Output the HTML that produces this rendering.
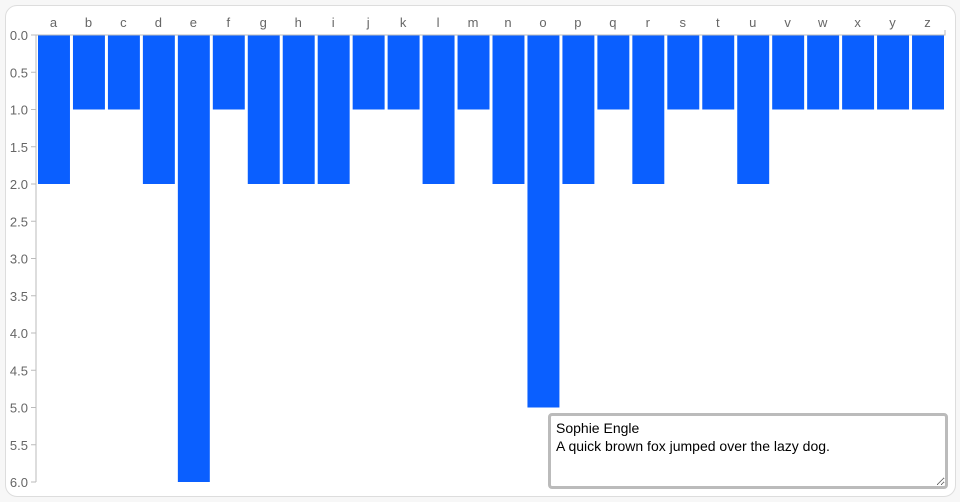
<!DOCTYPE html>
<html><head><meta charset="utf-8"><style>
body{margin:0;width:960px;height:502px;background:#f7f7f7;font-family:"Liberation Sans",sans-serif;overflow:hidden}
#card{position:absolute;left:5px;top:5px;width:949px;height:490px;background:#fff;border:1px solid #ddd;border-radius:12px}
svg{position:absolute;left:0;top:0}
textarea{position:absolute;left:548px;top:413px;width:400px;height:76px;box-sizing:border-box;border:3px solid #bbb;border-radius:4px;font-family:"Liberation Sans",sans-serif;font-size:14px;line-height:18px;padding:3px 5px;resize:both;color:#000}
</style></head><body>
<div id="card"></div>
<svg id="chart" width="960" height="502"></svg>
<textarea>Sophie Engle
A quick brown fox jumped over the lazy dog.</textarea>
<script>
const categories=["a","b","c","d","e","f","g","h","i","j","k","l","m","n","o","p","q","r","s","t","u","v","w","x","y","z"];
const values=[2,1,1,2,6,1,2,2,2,1,1,2,1,2,5,2,1,2,1,1,2,1,1,1,1,1];
const yTicks=[0,0.5,1,1.5,2,2.5,3,3.5,4,4.5,5,5.5,6];
const NS="http://www.w3.org/2000/svg";
const svg=document.getElementById('chart');
const x0=36,x1=945,y0=35,y1=482,yMax=6;
const band=(x1-x0)/categories.length;
const xs=i=>x0+i*band;
const ys=v=>y0+(y1-y0)*v/yMax;
function mk(t,a){const e=document.createElementNS(NS,t);for(const k in a)e.setAttribute(k,a[k]);svg.appendChild(e);return e;}
categories.forEach((c,i)=>{
  const r=mk('rect',{x:xs(i)+2,y:ys(0),width:band-3,height:ys(values[i])-ys(0),fill:'#0a5fff'});
  
  
  const t=mk('text',{x:xs(i)+band/2,y:27,'text-anchor':'middle','font-size':13,fill:'#666'});
  t.textContent=c;
  
  
});
const ax=mk('path',{d:`M${x0},${y0}V${y1}M${x0},${y0}H${x1}V${y0-5}`,stroke:'#bbb',fill:'none'});


yTicks.forEach(v=>{
  mk('line',{x1:x0-5,x2:x0,y1:ys(v),y2:ys(v),stroke:'#bbb'});
  const t=mk('text',{x:x0-8,y:ys(v)+5,'text-anchor':'end','font-size':13,fill:'#666'});
  t.textContent=v.toFixed(1);
  
  
});
</script>
</body></html>
